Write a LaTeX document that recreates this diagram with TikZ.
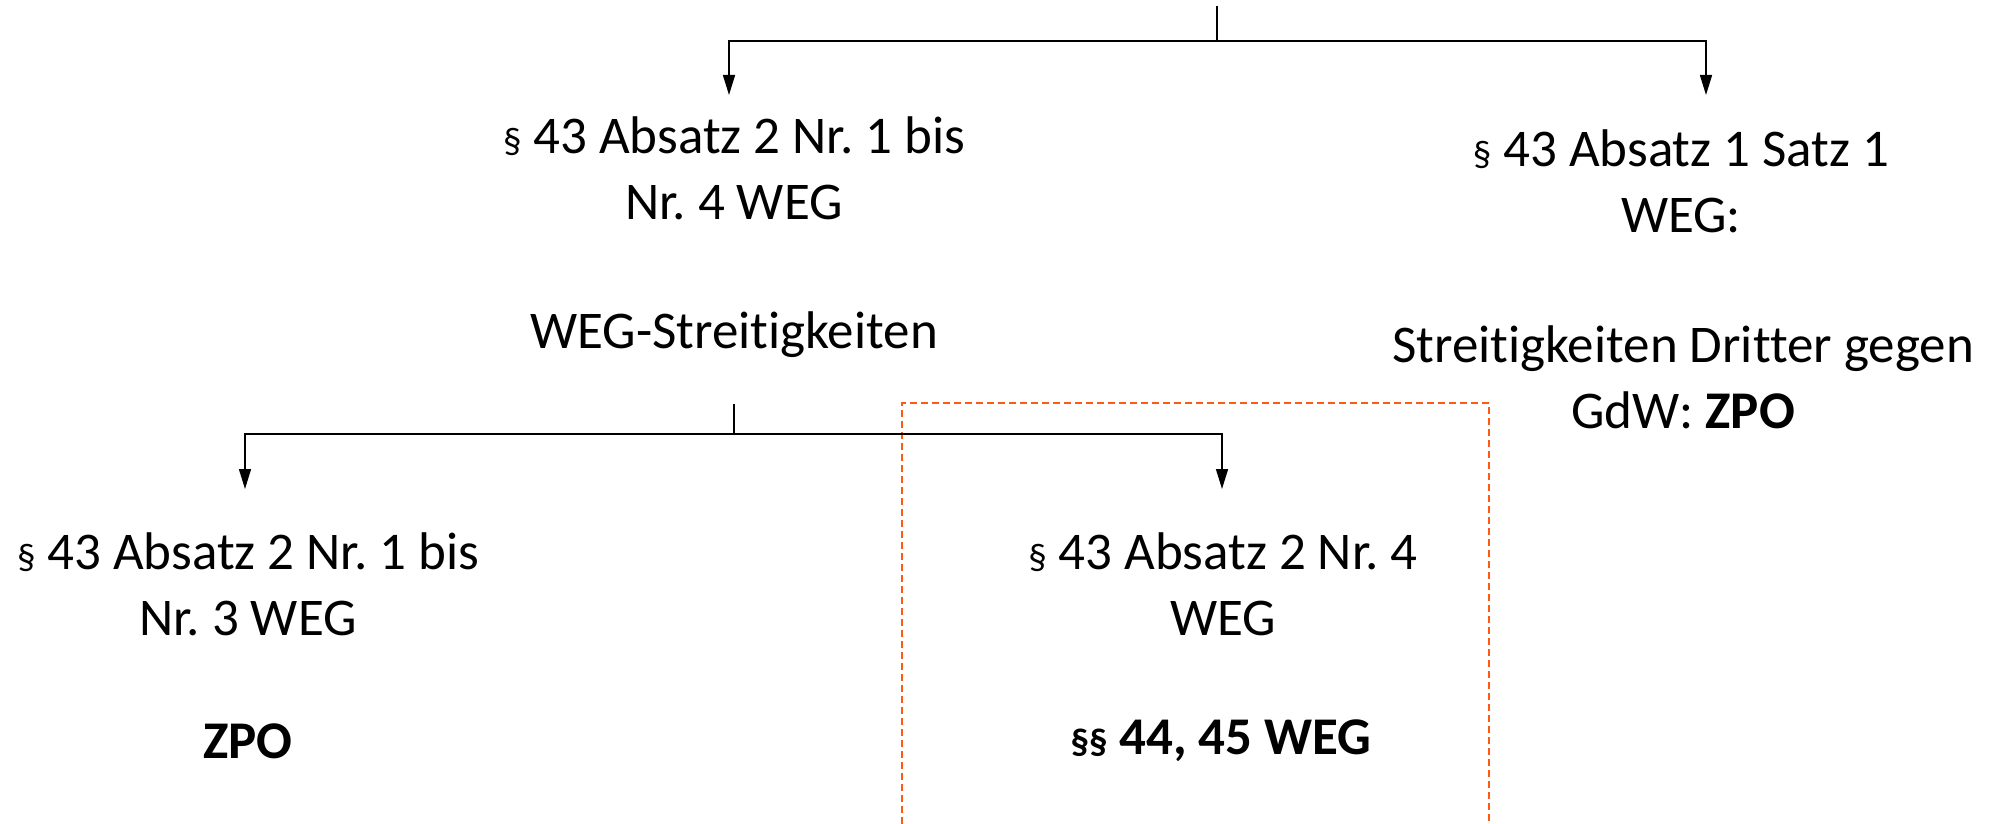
\documentclass[tikz,border=0pt]{standalone}
\usepackage{fontspec}
\setmainfont[Ligatures={NoCommon}]{Carlito}
\usetikzlibrary{arrows.meta}
\frenchspacing
\newcommand{\smpar}{{\fontsize{37}{37}\selectfont §}}
\definecolor{boxorange}{RGB}{255,90,20}
\tikzset{
  lbl/.style={align=center, inner sep=0pt, font=\fontsize{53}{66}\selectfont},
  conn/.style={line width=1.5pt, draw=black},
  arr/.style={conn, -{Triangle[length=20pt,width=12pt]}},
  dashbox/.style={draw=boxorange, line width=1.5pt, dash pattern=on 7pt off 4pt}
}
\begin{document}
\begin{tikzpicture}[x=1pt,y=-1pt]
\useasboundingbox (0,0) rectangle (1992,824);
% dashed highlight box
\draw[dashbox] (902,824) |- (1489,403) -- (1489,824);
% nodes
\node[lbl] (A1) at (734,168) {\smpar{} 43 Absatz 2 Nr. 1 bis\\Nr. 4 WEG};
\node[lbl] (A2) at (734,335) {WEG-Streitigkeiten};
\node[lbl] (B1) at (1681,181) {\smpar{} 43 Absatz 1 Satz 1\\WEG:};
\node[lbl] (B2) at (1683,377) {Streitigkeiten Dritter gegen\\GdW: \textbf{ZPO}};
\node[lbl] (C1) at (248,584) {\smpar{} 43 Absatz 2 Nr. 1 bis\\Nr. 3 WEG};
\node[lbl] (C2) at (248,741) {\textbf{ZPO}};
\node[lbl] (D1) at (1223,584) {\smpar{} 43 Absatz 2 Nr. 4\\WEG};
\node[lbl] (D2) at (1221,741) {\textbf{\smpar\smpar{} 44, 45 WEG}};
% top connectors
\coordinate (root) at (1217,6);
\coordinate (j1) at (1217,41);
\draw[conn] (root) -- (j1);
\draw[arr] (j1) -| (729,95);
\draw[arr] (j1) -| (1706,95);
% second level
\coordinate (j2) at (734,434);
\draw[conn] (734,404) -- (j2);
\draw[arr] (j2) -| (245,489);
\draw[arr] (j2) -| (1222,489);
\end{tikzpicture}
\end{document}
